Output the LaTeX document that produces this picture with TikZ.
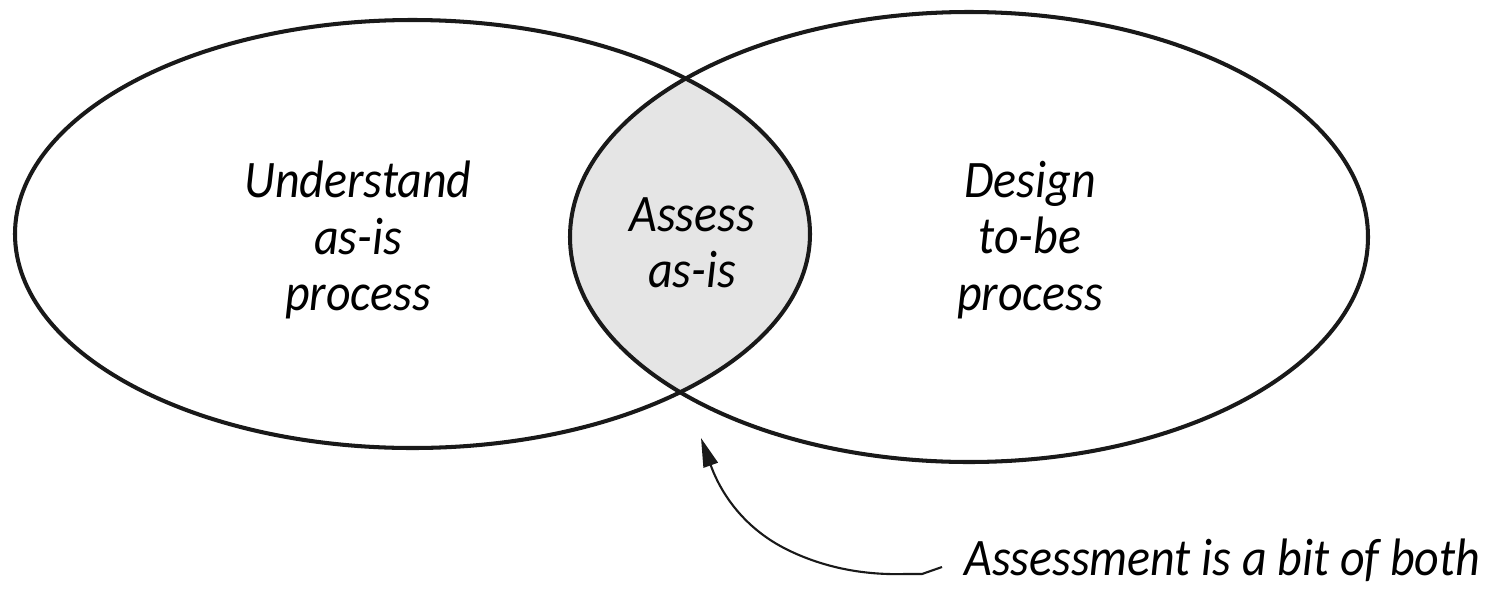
\documentclass[tikz,border=0pt]{standalone}
\usepackage{fontspec}
\setmainfont{Carlito}[FakeStretch=0.91]
\usetikzlibrary{positioning,arrows.meta}

\begin{document}
\begin{tikzpicture}[
  x=0.02cm, y=-0.02cm,
  >=Triangle,
  ring/.style={draw=black!90, line width=2.3pt},
  lens/.style={fill=black!10},
  txt/.style={font=\itshape\fontsize{30}{32}\selectfont, align=center, inner sep=0pt},
  note/.style={font=\itshape\fontsize{30}{32}\selectfont, anchor=west, inner sep=0pt},
  pointer/.style={draw=black!90, line width=1.2pt, <-, >={Triangle[length=0.58cm,width=0.3cm]}}
]
\useasboundingbox (0,0) rectangle (1491,589);

% overlap of the two phases
\begin{scope}
  \clip (412.5,234) ellipse [x radius=397.5, y radius=214];
  \fill[lens] (969,237) ellipse [x radius=399, y radius=225];
\end{scope}
\draw[ring] (412.5,234) ellipse [x radius=397.5, y radius=214];
\draw[ring] (969,237) ellipse [x radius=399, y radius=225];

\node[txt] (asis) at (358,240) {Understand\\as-is\\process};
\node[txt] (assess) at (692,243) {Assess\\as-is};
\node[txt] (tobe) at (1030,240) {Design\\to-be\\process};

\node[note] (both) at (964,560) {Assessment is a bit of both};
\coordinate (tip) at (701,438);
\coordinate (tail) at (942,567);

\draw[pointer] (tip) .. controls (716,480) and (735,525) .. (790,551)
  .. controls (830,570) and (870,575) .. (905,574) -- (922,574) -- (tail);
\end{tikzpicture}
\end{document}
